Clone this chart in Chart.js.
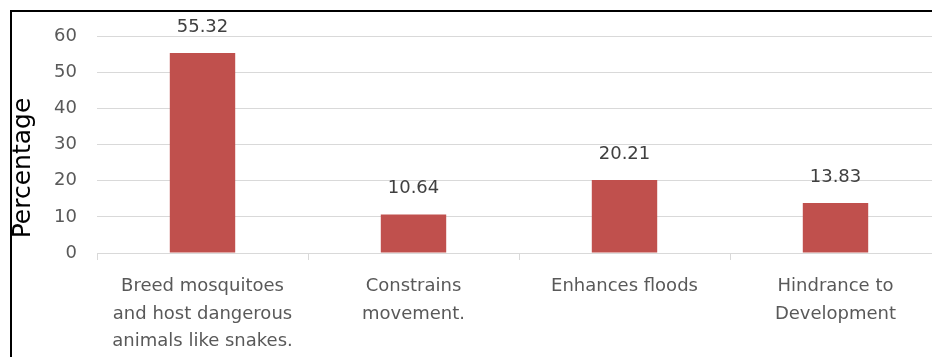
<!DOCTYPE html>
<html>
<head>
<meta charset="utf-8">
<script src="https://cdn.jsdelivr.net/npm/chart.js@4/dist/chart.umd.min.js"></script>
<style>
  html, body { margin: 0; padding: 0; background: #fff; overflow: hidden; }
  #wrap { position: absolute; left: 0; top: 0; width: 960px; height: 357px; }
  #frame { position: absolute; left: 10px; top: 10px; width: 1000px; height: 400px;
           border-top: 2px solid #000; border-left: 2px solid #000; pointer-events: none; }
</style>
</head>
<body>
<div id="wrap"><canvas id="barChart" width="960" height="357"></canvas></div>
<div id="frame"></div>
<script>
const categories = [
    ["Breed mosquitoes", "and host dangerous", "animals like snakes."],
    ["Constrains", "movement."],
    ["Enhances floods"],
    ["Hindrance to", "Development"]
];
const percentages = [55.32, 10.64, 20.21, 13.83];
const yMax = 60;
const yStep = 10;
const yTitle = "Percentage";

const CHART = document.getElementById("barChart");

// draws the number above each bar + the y title (sits a bit below centre in the original)
const valueLabels = {
    id: 'valueLabels',
    afterDraw(chart) {
        const ctx = chart.ctx;
        ctx.save();
        ctx.font = '18px "DejaVu Sans"';
        ctx.fillStyle = '#404040';
        ctx.textAlign = 'center';
        ctx.textBaseline = 'bottom';
        chart.getDatasetMeta(0).data.forEach((bar, i) => {
            ctx.fillText(percentages[i].toFixed(2), bar.x, bar.y - 17);
        });
        ctx.translate(23, 168);
        ctx.rotate(-Math.PI / 2);
        ctx.font = '25px "DejaVu Sans"';
        ctx.fillStyle = '#000';
        ctx.textBaseline = 'middle';
        ctx.fillText(yTitle, 0, 0);
        ctx.restore();
    }
};

let barChart = new Chart(CHART, {
    type: 'bar',
    data: {
        labels: categories,
        datasets: [{
            label: yTitle,
            data: percentages,
            backgroundColor: "#C0504D",
            borderWidth: 0,
            barPercentage: 0.31,
            categoryPercentage: 1
        }]
    },
    plugins: [valueLabels],
    options: {
        responsive: false,
        animation: false,
        layout: { padding: { left: 10, right: 19, top: 36, bottom: 0 } },
        plugins: { legend: { display: false }, tooltip: { enabled: false } },
        scales: {
            x: {
                grid: { offset: true, drawOnChartArea: false, tickLength: 7, color: '#d9d9d9' },
                border: { color: '#d9d9d9' },
                ticks: {
                    color: '#595959',
                    font: { family: 'DejaVu Sans', size: 18, lineHeight: 1.55 },
                    padding: 12,
                    maxRotation: 0,
                    autoSkip: false
                },
                afterFit(scale) { scale.height = 104; }
            },
            y: {
                min: 0,
                max: yMax,
                ticks: {
                    stepSize: yStep,
                    color: '#595959',
                    font: { family: 'DejaVu Sans', size: 18 },
                    padding: 20
                },
                grid: { color: '#d9d9d9', drawTicks: false },
                border: { display: false },
                afterFit(scale) { scale.width = 87; }
            }
        }
    }
});
</script>
</body>
</html>
